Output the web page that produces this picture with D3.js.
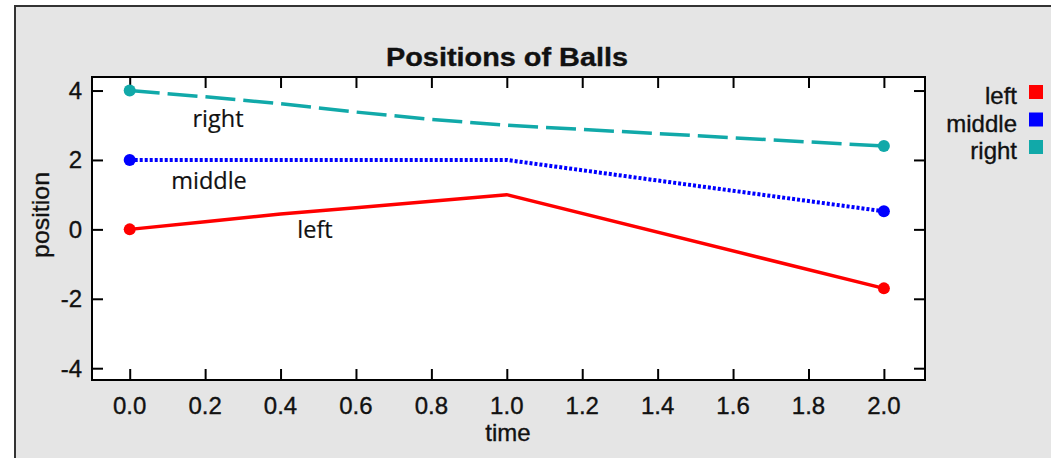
<!DOCTYPE html>
<meta charset="utf-8" />
<title>Positions of Balls</title>
<style>
  body { margin: 0; background: #fff; }
  text { font-family: "Liberation Sans", Arial, sans-serif; fill: #111; stroke: #111; stroke-width: 0.35px; }
  .label { font-family: "Open Sans", sans-serif; font-size: 23.5px; stroke-width: 0.2px; }
</style>
<body>
<script src="https://d3js.org/d3.v7.min.js"></script>
<script>
  // data
  var times = [0, 0.2, 0.4, 0.6, 0.8, 1.0, 2.0];
  var leftPos = [0, 0.22, 0.44, 0.62, 0.81, 1.0, -1.7];
  var middlePos = [2, 2, 2, 2, 2, 2, 0.52];
  var rightPos = [4, 3.82, 3.62, 3.38, 3.17, 3.0, 2.4];
  var seriesNames = ["left", "middle", "right"];
  var xTicks = [0, 0.2, 0.4, 0.6, 0.8, 1.0, 1.2, 1.4, 1.6, 1.8, 2.0];
  var yTicks = [-4, -2, 0, 2, 4];

  var width = 1051, height = 458;
  var plot = { left: 92, top: 77, right: 925, bottom: 380 };

  var svg = d3.select("body").append("svg")
    .attr("width", width)
    .attr("height", height);

  // grey frame
  svg.append("rect")
    .attr("x", 15).attr("y", 6)
    .attr("width", width + 20).attr("height", height + 20)
    .attr("fill", "#e5e5e5")
    .attr("stroke", "#333").attr("stroke-width", 2);

  var x = d3.scaleLinear().domain([-0.1, 2.109]).range([plot.left, plot.right]);
  var y = d3.scaleLinear().domain([-4.34, 4.39]).range([plot.bottom, plot.top]);

  svg.append("rect")
    .attr("x", plot.left).attr("y", plot.top)
    .attr("width", plot.right - plot.left)
    .attr("height", plot.bottom - plot.top)
    .attr("fill", "#fff");

  // ticks pointing inward on all four sides
  var tickLen = 11;
  function axisStyle(g) {
    g.select(".domain").remove();
    g.selectAll("line").attr("stroke", "#000").attr("stroke-width", 2);
    g.selectAll("text").remove();
  }
  svg.append("g").attr("transform", "translate(0," + plot.bottom + ")")
    .call(d3.axisTop(x).tickValues(xTicks).tickSize(tickLen)).call(axisStyle);
  svg.append("g").attr("transform", "translate(0," + plot.top + ")")
    .call(d3.axisBottom(x).tickValues(xTicks).tickSize(tickLen)).call(axisStyle);
  svg.append("g").attr("transform", "translate(" + plot.left + ",0)")
    .call(d3.axisRight(y).tickValues(yTicks).tickSize(tickLen)).call(axisStyle);
  svg.append("g").attr("transform", "translate(" + plot.right + ",0)")
    .call(d3.axisLeft(y).tickValues(yTicks).tickSize(tickLen)).call(axisStyle);

  svg.selectAll(".xlab").data(xTicks).enter().append("text")
    .attr("x", function (d) { return x(d); })
    .attr("y", 414)
    .attr("text-anchor", "middle")
    .style("font-size", "24px")
    .text(function (d) { return d.toFixed(1); });

  svg.selectAll(".ylab").data(yTicks).enter().append("text")
    .attr("x", 82)
    .attr("y", function (d) { return y(d) + 8.5; })
    .attr("text-anchor", "end")
    .style("font-size", "24px")
    .text(function (d) { return d; });

  svg.append("rect")
    .attr("x", plot.left).attr("y", plot.top)
    .attr("width", plot.right - plot.left)
    .attr("height", plot.bottom - plot.top)
    .attr("fill", "none")
    .attr("stroke", "#000").attr("stroke-width", 2);

  // titles
  svg.append("text")
    .attr("x", 507).attr("y", 66)
    .attr("text-anchor", "middle")
    .style("font-size", "25px").style("font-weight", "bold")
    .attr("textLength", 242).attr("lengthAdjust", "spacingAndGlyphs")
    .text("Positions of Balls");

  svg.append("text")
    .attr("x", 508).attr("y", 441)
    .attr("text-anchor", "middle")
    .style("font-size", "24px")
    .text("time");

  svg.append("text")
    .attr("transform", "translate(49,215) rotate(-90)")
    .attr("text-anchor", "middle")
    .style("font-size", "24px")
    .attr("textLength", 86).attr("lengthAdjust", "spacingAndGlyphs")
    .text("position");

  // series
  var series = [
    { name: "left", values: leftPos, color: "#ff0000", dash: null, label: [315, 238] },
    { name: "middle", values: middlePos, color: "#0000ff", dash: "3,2", label: [209, 189] },
    { name: "right", values: rightPos, color: "#11a9a9", dash: "30,8", label: [218, 127] }
  ];

  var line = d3.line()
    .x(function (d) { return x(d[0]); })
    .y(function (d) { return y(d[1]); });

  series.forEach(function (s) {
    var pts = times.map(function (t, i) { return [t, s.values[i]]; });
    svg.append("path")
      .datum(pts)
      .attr("fill", "none")
      .attr("stroke", s.color)
      .attr("stroke-width", s.dash === "3,2" ? 4 : 3.5)
      .attr("stroke-dasharray", s.dash)
      .attr("d", line);

    svg.selectAll(null)
      .data([pts[0], pts[pts.length - 1]])
      .enter().append("circle")
      .attr("cx", function (d) { return x(d[0]); })
      .attr("cy", function (d) { return y(d[1]); })
      .attr("r", 6)
      .attr("fill", s.color);

    svg.append("text")
      .attr("class", "label")
      .attr("x", s.label[0]).attr("y", s.label[1])
      .attr("text-anchor", "middle")
      .text(s.name);
  });

  // legend
  var legend = svg.selectAll(".legend").data(series).enter().append("g")
    .attr("transform", function (d, i) { return "translate(0," + (92 + i * 27.5) + ")"; });
  legend.append("text")
    .attr("x", 1017).attr("y", 12)
    .attr("text-anchor", "end")
    .style("font-size", "24px")
    .text(function (d) { return d.name; });
  legend.append("rect")
    .attr("x", 1029).attr("y", -7)
    .attr("width", 14).attr("height", 14)
    .attr("fill", function (d) { return d.color; });
</script>
</body>
